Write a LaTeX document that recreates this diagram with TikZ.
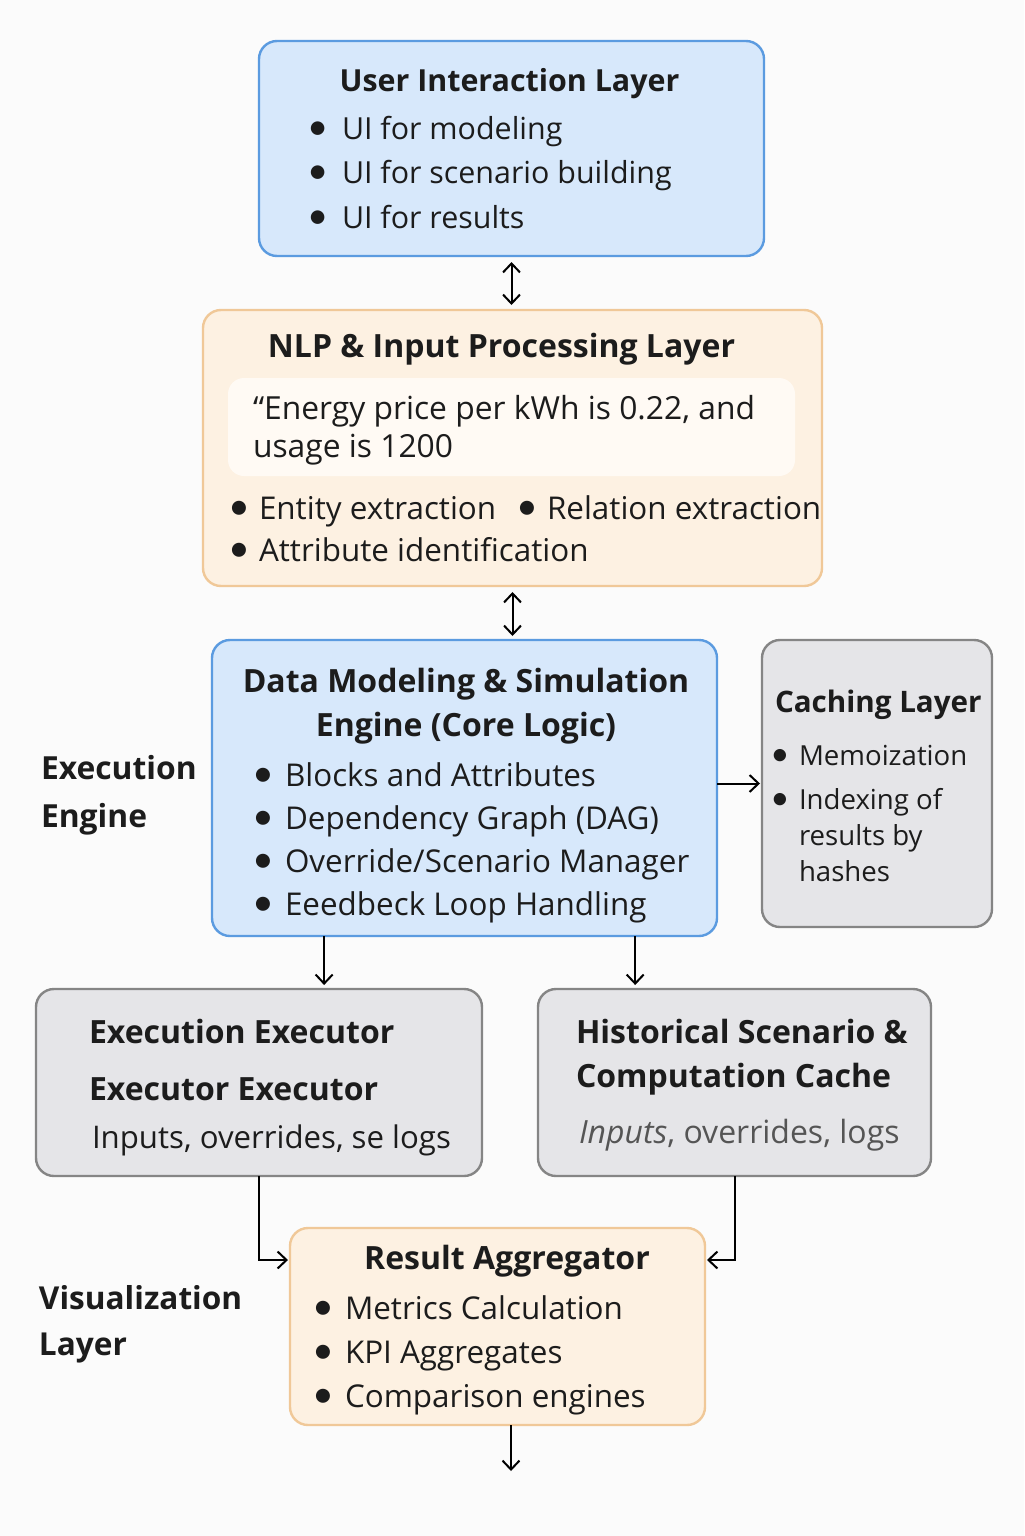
\documentclass[tikz,border=0pt]{standalone}
\usepackage{fontspec}
\setmainfont{Open Sans}
\newfontfamily\dotfont{Lato}
\usepackage{graphicx}
\usepackage{tikz}
\usetikzlibrary{
  calc,
  positioning,
  arrows.meta
}

\definecolor{uifill}{HTML}{D7E8FB}
\definecolor{uiline}{HTML}{5B9BE0}
\definecolor{nlpfill}{HTML}{FDF1E2}
\definecolor{nlpline}{HTML}{F0C898}
\definecolor{cachefill}{HTML}{E5E5E8}
\definecolor{cacheline}{HTML}{858585}
\definecolor{quotefill}{HTML}{FFFAF4}
\definecolor{ink}{HTML}{1C1C1C}
\definecolor{faded}{HTML}{555555}
\definecolor{paper}{HTML}{FBFBFB}

% bullet centred on the line start, text after #1
\newcommand{\itm}[1][11pt]{\makebox[#1][l]{\makebox[0pt]{\dotfont\scalebox{1.2}{\textbullet}}}}

\tikzset{
  layer/.style = {draw, rounded corners=9pt, line width=1.2pt, inner sep=0pt, outer sep=0pt},
  bluelayer/.style = {layer, draw=uiline, fill=uifill},
  creamlayer/.style = {layer, draw=nlpline, fill=nlpfill},
  graylayer/.style = {layer, draw=cacheline, fill=cachefill},
  quotebox/.style = {draw=none, fill=quotefill, rounded corners=8pt, inner sep=0pt, outer sep=0pt},
  title/.style = {font=\fontsize{16}{22}\selectfont\bfseries, text=ink, inner sep=0pt, anchor=base},
  items/.style = {font=\fontsize{15.7}{22}\selectfont, text=ink, inner sep=0pt, anchor=base west},
  sidelabel/.style = {font=\fontsize{15.9}{24}\selectfont\bfseries, text=ink, inner sep=0pt, anchor=base west}
}

\begin{document}
\begin{tikzpicture}[x=0.5pt, y=-0.5pt, node distance=27pt,
    >={Straight Barb[length=4.5pt,width=8.5pt]}, line width=1pt]
    \fill[paper] (0,0) rectangle (1024,1536);
    \useasboundingbox (0,0) rectangle (1024,1536);

    % layers
    \node[bluelayer, minimum width=252.5pt, minimum height=107.5pt] (ui) at (511.5,148.5) {};
    \node[creamlayer, minimum width=309.5pt, minimum height=138pt, below = of ui, xshift=0.5pt] (nlp) {};
    \node[quotebox, minimum width=283.5pt, minimum height=49pt, below = 34pt of nlp.north, xshift=-0.5pt] (quote) {};
    \node[bluelayer, minimum width=252.5pt, minimum height=148pt, below = of nlp, xshift=-24pt] (core) {};
    \node[graylayer, minimum width=115pt, minimum height=143.5pt, right = 22.5pt of core, yshift=2.25pt] (cache) {};
    \node[graylayer, minimum width=223pt, minimum height=93.5pt, below = 26.5pt of core, xshift=-102.75pt] (exec) {};
    \node[graylayer, minimum width=196.5pt, minimum height=93.5pt, right = 28pt of exec] (hist) {};
    \node[creamlayer, minimum width=207.5pt, minimum height=98.5pt, below = 26pt of exec, xshift=119.25pt] (agg) {};

    % texts
    \node[title, font=\fontsize{15.2}{22}\selectfont\bfseries] (uitit) at ($(ui.north)+(-2,51)$) {User Interaction Layer};
    \node[items, font=\fontsize{15.2}{22}\selectfont] (uilist) at ($(ui.north west)+(58,99)$) {\begin{tabular}[t]{@{}l@{}}
      \itm[12pt]UI for modeling \\ \itm[12pt]UI for scenario building \\ \itm[12pt]UI for results
    \end{tabular}};

    \node[title] (nlptit) at ($(nlp.north)+(-11,47)$) {NLP \& Input Processing Layer};
    \node[items, font=\fontsize{15.9}{19}\selectfont] (quotetxt) at ($(quote.north west)+(24,41)$) {\begin{tabular}[t]{@{}l@{}}
      \textquotedblleft Energy price per kWh is 0.22, and \\ usage is 1200
    \end{tabular}};
    \node[items, font=\fontsize{15.7}{21}\selectfont] (nlplist) at ($(nlp.north west)+(35,209)$) {\begin{tabular}[t]{@{}l@{}}
      \makebox[144pt][l]{\itm[10pt]Entity extraction}\itm[10pt]Relation extraction \\
      \itm[10pt]Attribute identification
    \end{tabular}};

    \node[title] (coretit) at ($(core.north)+(1.5,52)$) {\begin{tabular}[t]{@{}c@{}}
      Data Modeling \& Simulation \\ Engine (Core Logic)
    \end{tabular}};
    \node[items, font=\fontsize{15.7}{21.5}\selectfont] (corelist) at ($(core.north west)+(50,146)$) {\begin{tabular}[t]{@{}l@{}}
      \itm Blocks and Attributes \\ \itm Dependency Graph (DAG) \\
      \itm Override/Scenario Manager \\ \itm Eeedbeck Loop Handling
    \end{tabular}};

    \node[title, anchor=base west, font=\fontsize{14.8}{22}\selectfont\bfseries] (cachetit) at ($(cache.north west)+(12,72)$) {Caching Layer};
    \node[items, font=\fontsize{13.8}{18}\selectfont] (cachelist) at ($(cache.north west)+(17,125)$) {\begin{tabular}[t]{@{}l@{}}
      \itm[9.5pt]Memoization \\[4pt] \itm[9.5pt]Indexing of \\ \hspace*{9.5pt}results by \\ \hspace*{9.5pt}hashes
    \end{tabular}};

    \node[title, anchor=base west] (exectit) at ($(exec.north west)+(52,54)$) {Execution Executor};
    \node[title, anchor=base west] (exectwo) at ($(exec.north west)+(52,111)$) {Executor Executor};
    \node[items, font=\fontsize{15.6}{22}\selectfont] (exectxt) at ($(exec.north west)+(55,159)$) {Inputs, overrides, se logs};

    \node[title, anchor=base west] (histtit) at ($(hist.north west)+(37,54)$) {\begin{tabular}[t]{@{}l@{}}
      Historical Scenario \& \\ Computation Cache
    \end{tabular}};
    \node[items, text=faded, font=\fontsize{16}{22}\selectfont] (histtxt) at ($(hist.north west)+(40,154)$) {\textit{Inputs}, overrides, logs};

    \node[title] (aggtit) at ($(agg.north)+(9.5,41)$) {Result Aggregator};
    \node[items] (agglist) at ($(agg.north west)+(32,91)$) {\begin{tabular}[t]{@{}l@{}}
      \itm Metrics Calculation \\ \itm KPI Aggregates \\ \itm Comparison engines
    \end{tabular}};

    \node[sidelabel] (execlbl) at (40,779) {\begin{tabular}[t]{@{}l@{}}Execution \\ Engine\end{tabular}};
    \node[sidelabel, font=\fontsize{15.8}{23}\selectfont\bfseries] (vislbl) at (38,1309) {\begin{tabular}[t]{@{}l@{}}Visualization \\ Layer\end{tabular}};

    % connectors
    \draw[<->, shorten <=3pt, shorten >=2.5pt] (ui.south) -- (ui.south |- nlp.north);
    \draw[<->, shorten <=3pt, shorten >=2pt] (nlp.south) -- (nlp.south |- core.north);
    \draw[->, shorten >=1pt] (core.east |- cache.west) -- (cache.west);
    \coordinate (coreleft) at ($(core.south west)!0.222!(core.south east)$);
    \coordinate (coreright) at ($(core.south west)!0.838!(core.south east)$);
    \draw[->, shorten >=2pt] (coreleft) -- (coreleft |- exec.north);
    \draw[->, shorten >=2pt] (coreright) -- (coreright |- hist.north);
    \draw[->, shorten >=1pt] (exec.south) |- ($(agg.north west)+(0,32)$);
    \draw[->, shorten >=1pt] (hist.south) |- ($(agg.north east)+(0,32)$);
    \coordinate[below = 23pt of agg.south, xshift=6.75pt] (out);
    \draw[->] (agg.south -| out) -- (out);
\end{tikzpicture}
\end{document}
